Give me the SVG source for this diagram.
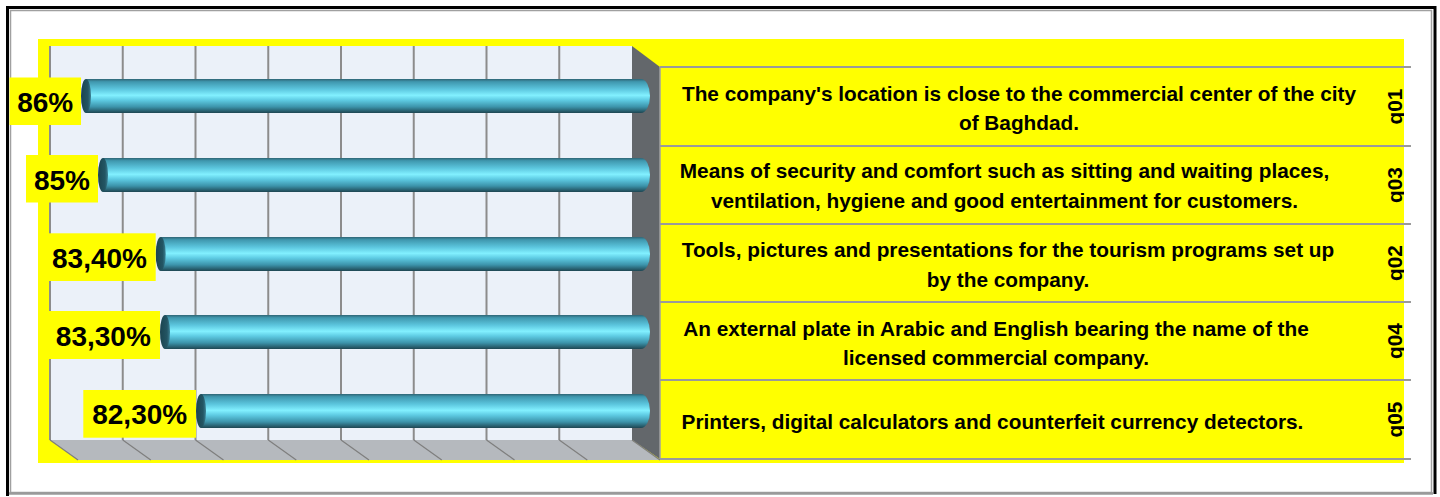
<svg xmlns="http://www.w3.org/2000/svg" width="1440" height="497" viewBox="0 0 1440 497">
<style>
.t{font-family:"Liberation Sans",Arial,sans-serif;font-weight:bold;fill:#000}
.cat{font-size:20.8px;text-anchor:middle}
.pct{font-size:28px;text-anchor:middle}
.q{font-size:20.8px;text-anchor:middle}
.grid{stroke:#8C8C8C;stroke-width:2}
.diag{stroke:#7E7E7E;stroke-width:1.2}
.row{stroke:#9A9A9A;stroke-width:2}
.lbl{fill:#FFFF00}
.face{fill:url(#faceG)}
</style>
<defs>
<linearGradient id="barG" x1="0" y1="0" x2="0" y2="1">
<stop offset="0" stop-color="#2F6575"/>
<stop offset="0.08" stop-color="#3F97AE"/>
<stop offset="0.3" stop-color="#5CC6DE"/>
<stop offset="0.48" stop-color="#82F0FF"/>
<stop offset="0.62" stop-color="#5ECBE3"/>
<stop offset="0.82" stop-color="#3C93AA"/>
<stop offset="1" stop-color="#1E4652"/>
</linearGradient>
<linearGradient id="faceG" x1="0" y1="0" x2="1" y2="0">
<stop offset="0" stop-color="#1B4450"/>
<stop offset="0.7" stop-color="#235563"/>
<stop offset="1" stop-color="#3A7F92"/>
</linearGradient>
<clipPath id="qclip"><rect x="1380" y="40" width="24" height="430"/></clipPath>
</defs>

<g id="frame">
<rect x="10.5" y="10.5" width="1421" height="482" fill="#FFFFFF" stroke="#A0A0A0" stroke-width="1.5"/>
<line x1="9" y1="493.5" x2="1433" y2="493.5" stroke="#9A9A9A" stroke-width="2.5"/>
<polyline points="7.5,496 7.5,7.5 1435,7.5 1435,494" fill="none" stroke="#000" stroke-width="3"/>
</g>

<g id="plot-area">
<rect x="38" y="39" width="1366" height="424" fill="#FFFF00"/>
<rect x="50" y="46" width="582" height="394" fill="#EBF1F9"/>
<polygon points="632,46 660,67 660,459 632,440" fill="#63676B"/>
<polygon points="50,440 632,440 660,460 78,460" fill="#B5B9BE"/>
<g id="gridlines">
<line class="grid" x1="50" y1="46" x2="50" y2="440"/>
<line class="grid" x1="122.75" y1="46" x2="122.75" y2="440"/>
<line class="grid" x1="195.5" y1="46" x2="195.5" y2="440"/>
<line class="grid" x1="268.25" y1="46" x2="268.25" y2="440"/>
<line class="grid" x1="341" y1="46" x2="341" y2="440"/>
<line class="grid" x1="413.75" y1="46" x2="413.75" y2="440"/>
<line class="grid" x1="486.5" y1="46" x2="486.5" y2="440"/>
<line class="grid" x1="559.25" y1="46" x2="559.25" y2="440"/>
<line class="diag" x1="50" y1="440" x2="78" y2="460"/>
<line class="diag" x1="122.75" y1="440" x2="150.75" y2="460"/>
<line class="diag" x1="195.5" y1="440" x2="223.5" y2="460"/>
<line class="diag" x1="268.25" y1="440" x2="296.25" y2="460"/>
<line class="diag" x1="341" y1="440" x2="369" y2="460"/>
<line class="diag" x1="413.75" y1="440" x2="441.75" y2="460"/>
<line class="diag" x1="486.5" y1="440" x2="514.5" y2="460"/>
<line class="diag" x1="559.25" y1="440" x2="587.25" y2="460"/>
<line class="diag" x1="632" y1="440" x2="660" y2="460"/>
</g>
</g>

<g id="table-lines">
<line x1="660" y1="67" x2="660" y2="459" stroke="#A0A0A0" stroke-width="1.5"/>
<line class="row" x1="660" y1="67" x2="1411" y2="67"/>
<line class="row" x1="660" y1="146" x2="1411" y2="146"/>
<line class="row" x1="660" y1="224" x2="1411" y2="224"/>
<line class="row" x1="660" y1="302" x2="1411" y2="302"/>
<line class="row" x1="660" y1="380" x2="1411" y2="380"/>
<line class="row" x1="660" y1="459" x2="1411" y2="459"/>
</g>

<g id="bar-q01">
<path d="M86,79 H641 A9,17 0 0 1 641,113 H86 Z" fill="url(#barG)"/>
<ellipse class="face" cx="86" cy="96" rx="5" ry="17"/>
<rect class="lbl" x="9.5" y="77.5" width="71.5" height="47.5"/>
<text class="t pct" x="45.2" y="111.7">86%</text>
</g>

<g id="bar-q03">
<path d="M103,158 H641 A9,17 0 0 1 641,192 H103 Z" fill="url(#barG)"/>
<ellipse class="face" cx="103" cy="175" rx="5" ry="17"/>
<rect class="lbl" x="26" y="155" width="72" height="47.5"/>
<text class="t pct" x="62" y="189.5">85%</text>
</g>

<g id="bar-q02">
<path d="M160.7,237 H641 A9,17 0 0 1 641,271 H160.7 Z" fill="url(#barG)"/>
<ellipse class="face" cx="160.7" cy="254" rx="5" ry="17"/>
<rect class="lbl" x="43.3" y="233.3" width="112.4" height="47.7"/>
<text class="t pct" x="99.5" y="267.8">83,40%</text>
</g>

<g id="bar-q04">
<path d="M165,315 H641 A9,17 0 0 1 641,349 H165 Z" fill="url(#barG)"/>
<ellipse class="face" cx="165" cy="332" rx="5" ry="17"/>
<rect class="lbl" x="46.6" y="311" width="113.4" height="48"/>
<text class="t pct" x="103.3" y="345.5">83,30%</text>
</g>

<g id="bar-q05">
<path d="M201,394 H641 A9,17 0 0 1 641,428 H201 Z" fill="url(#barG)"/>
<ellipse class="face" cx="201" cy="411" rx="5" ry="17"/>
<rect class="lbl" x="83.3" y="390" width="112.7" height="47.7"/>
<text class="t pct" x="139.7" y="424.4">82,30%</text>
</g>

<g id="row-q01">
<text class="t cat" x="1019" y="101">The company's location is close to the commercial center of the city</text>
<text class="t cat" x="1019" y="130">of Baghdad.</text>
</g>
<g id="row-q03">
<text class="t cat" x="1004.5" y="178">Means of security and comfort such as sitting and waiting places,</text>
<text class="t cat" x="1004.5" y="208">ventilation, hygiene and good entertainment for customers.</text>
</g>
<g id="row-q02">
<text class="t cat" x="1008" y="257">Tools, pictures and presentations for the tourism programs set up</text>
<text class="t cat" x="1008" y="287">by the company.</text>
</g>
<g id="row-q04">
<text class="t cat" x="996" y="336">An external plate in Arabic and English bearing the name of the</text>
<text class="t cat" x="996" y="365">licensed commercial company.</text>
</g>
<g id="row-q05">
<text class="t cat" x="992.5" y="429">Printers, digital calculators and counterfeit currency detectors.</text>
</g>

<g id="q-labels" clip-path="url(#qclip)">
<text class="t q" transform="translate(1402,106.5) rotate(-90)">q01</text>
<text class="t q" transform="translate(1402,185) rotate(-90)">q03</text>
<text class="t q" transform="translate(1402,263) rotate(-90)">q02</text>
<text class="t q" transform="translate(1402,341) rotate(-90)">q04</text>
<text class="t q" transform="translate(1402,419.5) rotate(-90)">q05</text>
</g>
</svg>
